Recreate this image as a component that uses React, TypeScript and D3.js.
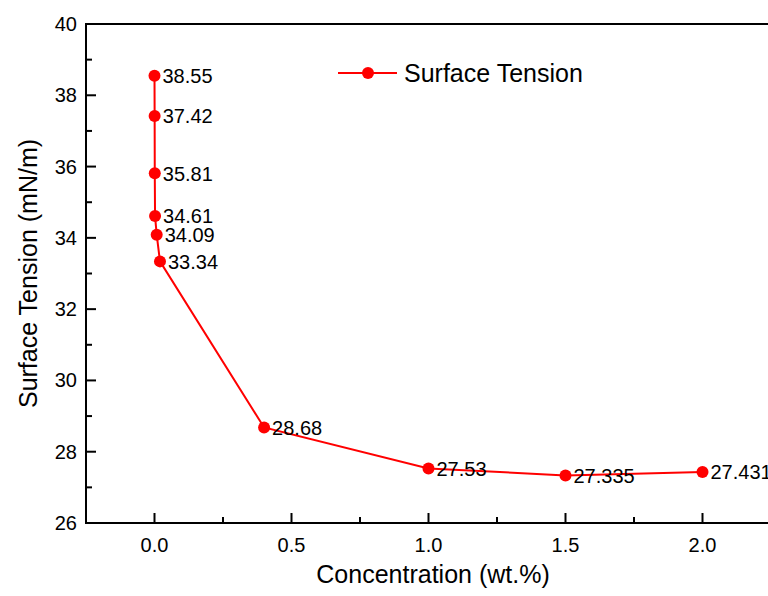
import React, { useEffect, useRef } from "react";
import * as d3 from "d3";

// concentration (wt.%) and surface tension (mN/m)
const concentration = [0.0, 0.0005, 0.001, 0.002, 0.008, 0.02, 0.4, 1.0, 1.5, 2.0];
const tension = [38.55, 37.42, 35.81, 34.61, 34.09, 33.34, 28.68, 27.53, 27.335, 27.431];
const pointLabels = ["38.55", "37.42", "35.81", "34.61", "34.09", "33.34", "28.68", "27.53", "27.335", "27.431"];
const xTicks = [0.0, 0.5, 1.0, 1.5, 2.0];
const yTicks = [26, 28, 30, 32, 34, 36, 38, 40];

const FONT = "'Liberation Sans', Arial, sans-serif";

function App() {
  const ref = useRef<SVGSVGElement>(null);

  useEffect(() => {
    drawChart();
  }, []);

  function drawChart() {
    const svg = d3.select(ref.current).html("");
    const left = 86, right = 771, top = 24, bottom = 523;

    const x = d3.scaleLinear().domain([-0.25, 2.25]).range([left, right]);
    const y = d3.scaleLinear().domain([26, 40]).range([bottom, top]);

    // frame
    svg.append("rect")
      .attr("x", left).attr("y", top)
      .attr("width", right - left).attr("height", bottom - top)
      .attr("fill", "none").attr("stroke", "#000").attr("stroke-width", 2);

    // x ticks (inward)
    const xMinor = d3.range(-0.25, 2.26, 0.25).filter(v => !xTicks.some(t => Math.abs(t - v) < 1e-6));
    const gx = svg.append("g");
    gx.selectAll("line.maj").data(xTicks).join("line")
      .attr("x1", d => x(d)).attr("x2", d => x(d))
      .attr("y1", bottom).attr("y2", bottom - 10)
      .attr("stroke", "#000").attr("stroke-width", 2);
    gx.selectAll("line.min").data(xMinor).join("line")
      .attr("x1", d => x(d)).attr("x2", d => x(d))
      .attr("y1", bottom).attr("y2", bottom - 6)
      .attr("stroke", "#000").attr("stroke-width", 2);
    gx.selectAll("text").data(xTicks).join("text")
      .attr("x", d => x(d)).attr("y", 552)
      .attr("text-anchor", "middle")
      .style("font-family", FONT).style("font-size", "20px")
      .text(d => d.toFixed(1));

    // y ticks (inward)
    const yMinor = d3.range(27, 40, 2);
    const gy = svg.append("g");
    gy.selectAll("line.maj").data(yTicks).join("line")
      .attr("x1", left).attr("x2", left + 10)
      .attr("y1", d => y(d)).attr("y2", d => y(d))
      .attr("stroke", "#000").attr("stroke-width", 2);
    gy.selectAll("line.min").data(yMinor).join("line")
      .attr("x1", left).attr("x2", left + 6)
      .attr("y1", d => y(d)).attr("y2", d => y(d))
      .attr("stroke", "#000").attr("stroke-width", 2);
    gy.selectAll("text").data(yTicks).join("text")
      .attr("x", 77).attr("y", d => y(d))
      .attr("dy", "0.35em")
      .attr("text-anchor", "end")
      .style("font-family", FONT).style("font-size", "20px")
      .text(d => d);

    // axis titles
    svg.append("text")
      .attr("x", 433).attr("y", 583)
      .attr("text-anchor", "middle")
      .style("font-family", FONT).style("font-size", "25px")
      .text("Concentration (wt.%)");
    svg.append("text")
      .attr("transform", "translate(37," + (top + bottom) / 2 + ") rotate(-90)")
      .attr("text-anchor", "middle")
      .style("font-family", FONT).style("font-size", "25px")
      .text("Surface Tension (mN/m)");

    // series
    const data = concentration.map((c, i) => ({ c, t: tension[i], label: pointLabels[i] }));
    const line = d3.line<{ c: number; t: number }>()
      .x(d => x(d.c))
      .y(d => y(d.t));
    svg.append("path")
      .datum(data)
      .attr("d", line)
      .attr("fill", "none").attr("stroke", "#ff0000").attr("stroke-width", 2);
    svg.append("g").selectAll("circle").data(data).join("circle")
      .attr("cx", d => x(d.c)).attr("cy", d => y(d.t)).attr("r", 6)
      .attr("fill", "#ff0000");
    svg.append("g").selectAll("text").data(data).join("text")
      .attr("x", d => x(d.c) + 8).attr("y", d => y(d.t))
      .attr("dy", "0.36em")
      .style("font-family", FONT).style("font-size", "20px")
      .text(d => d.label);

    // legend
    const lg = svg.append("g").attr("transform", "translate(338,73)");
    lg.append("line").attr("x1", 0).attr("x2", 59).attr("y1", 0).attr("y2", 0)
      .attr("stroke", "#ff0000").attr("stroke-width", 2);
    lg.append("circle").attr("cx", 30).attr("cy", 0).attr("r", 6).attr("fill", "#ff0000");
    lg.append("text").attr("x", 66).attr("y", 0).attr("dy", "0.36em")
      .style("font-family", FONT).style("font-size", "25px")
      .text("Surface Tension");
  }

  return (
    <svg ref={ref} width={768} height={596}
      style={{ position: "absolute", left: 0, top: 0, background: "#fff" }} />
  );
}

export default App;
